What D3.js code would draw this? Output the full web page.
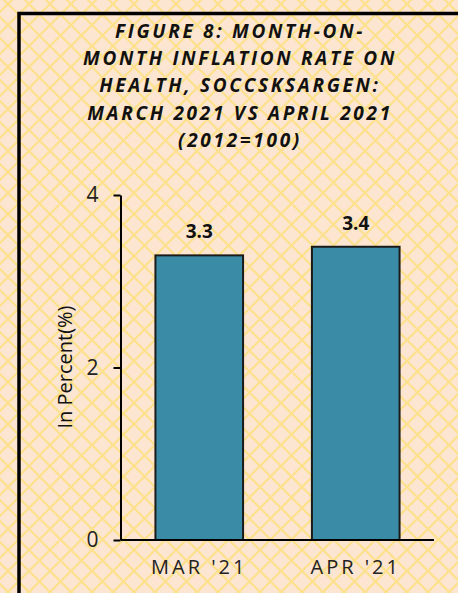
<!DOCTYPE html>
<html lang="en">
<head>
	<meta charset="utf-8">
	<title>Figure 8</title>
	<script src="https://cdn.jsdelivr.net/npm/d3@7"></script>
	<style>
		body { margin: 0; overflow: hidden; }
		text { font-family: "Open Sans", sans-serif; }
	</style>
</head>
<body>
<script>
	// data
	var months = ["MAR '21", "APR '21"];
	var rates = [3.3, 3.4];
	var yTicks = [0, 2, 4];
	var titleLines = ["FIGURE 8: MONTH-ON-", "MONTH INFLATION RATE ON", "HEALTH, SOCCSKSARGEN:", "MARCH 2021 VS APRIL 2021", "(2012=100)"];

	var width = 458, height = 593;

	var svg = d3.select("body").append("svg")
		.attr("width", width)
		.attr("height", height);

	// background lattice
	var defs = svg.append("defs");
	var pat = defs.append("pattern")
		.attr("id", "lattice")
		.attr("patternUnits", "userSpaceOnUse")
		.attr("width", 21).attr("height", 21)
		.attr("x", 8).attr("y", 4);
	pat.append("rect").attr("width", 21).attr("height", 21).attr("fill", "#fce6d1");
	pat.append("path")
		.attr("d", "M-1,-1L22,22M22,-1L-1,22")
		.attr("stroke", "#fde18c")
		.attr("stroke-width", 2.2);

	svg.append("rect").attr("width", width).attr("height", height).attr("fill", "url(#lattice)");

	// frame
	svg.append("rect")
		.attr("x", 19).attr("y", 13.5)
		.attr("width", 520).attr("height", 640)
		.attr("fill", "none")
		.attr("stroke", "#000")
		.attr("stroke-width", 3.5);

	// title
	svg.append("g").selectAll("text")
		.data(titleLines)
		.enter().append("text")
		.attr("x", 240)
		.attr("y", function(d, i) { return 38 + i * 27.2; })
		.attr("text-anchor", "middle")
		.style("font-size", "19px")
		.style("font-weight", "bold")
		.style("font-style", "italic")
		.style("letter-spacing", "2.7px")
		.attr("fill", "#111")
		.text(function(d) { return d; });

	var xScale = d3.scaleBand()
		.domain(months)
		.range([121, 434])
		.paddingInner(0.44)
		.paddingOuter(0.22);

	var yScale = d3.scaleLinear()
		.domain([0, 4])
		.range([540, 195]);

	// bars
	svg.append("g").selectAll("rect")
		.data(rates)
		.enter().append("rect")
		.attr("x", function(d, i) { return xScale(months[i]); })
		.attr("y", function(d) { return yScale(d); })
		.attr("width", xScale.bandwidth())
		.attr("height", function(d) { return yScale(0) - yScale(d); })
		.attr("fill", "#3a8ba6")
		.attr("stroke", "#1a1a1a")
		.attr("stroke-width", 2);

	// value labels
	svg.append("g").selectAll("text")
		.data(rates)
		.enter().append("text")
		.attr("x", function(d, i) { return xScale(months[i]) + xScale.bandwidth() / 2; })
		.attr("y", function(d) { return yScale(d) - 17; })
		.attr("text-anchor", "middle")
		.style("font-size", "19px")
		.style("font-weight", "bold")
		.attr("fill", "#111")
		.text(function(d) { return d.toFixed(1); });

	// y axis
	var yAxis = d3.axisLeft(yScale)
		.tickValues(yTicks)
		.tickFormat(d3.format("d"))
		.tickSize(7)
		.tickSizeOuter(0)
		.tickPadding(15);
	var gy = svg.append("g")
		.attr("transform", "translate(120.5,0)")
		.call(yAxis);
	gy.selectAll("path, line").attr("stroke", "#000").attr("stroke-width", 2);
	gy.selectAll("text")
		.style("font-size", "21px")
		.style("font-family", "'Open Sans', sans-serif")
		.attr("fill", "#222");

	// x axis
	var xAxis = d3.axisBottom(xScale)
		.tickSize(0)
		.tickPadding(20);
	var gx = svg.append("g")
		.attr("transform", "translate(0,540)")
		.call(xAxis);
	gx.select(".domain").remove();
	gx.append("line")
		.attr("x1", xScale.range()[0]).attr("x2", xScale.range()[1])
		.attr("stroke", "#000").attr("stroke-width", 2);
	gx.selectAll("text")
		.style("font-size", "20px")
		.style("font-family", "'Open Sans', sans-serif")
		.style("letter-spacing", "3px")
		.attr("fill", "#222");

	// y axis title
	svg.append("text")
		.attr("transform", "translate(72,367) rotate(-90)")
		.attr("text-anchor", "middle")
		.style("font-size", "20px")
		.attr("fill", "#111")
		.text("In Percent(%)");
</script>
</body>
</html>
